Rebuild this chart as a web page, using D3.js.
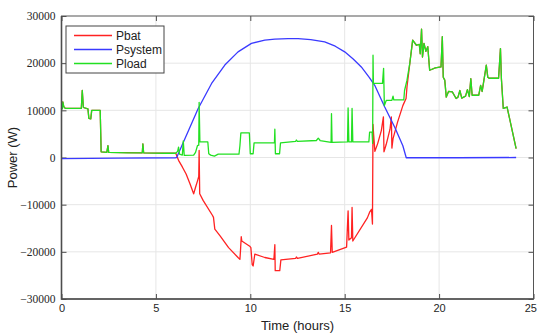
<!DOCTYPE html>
<html lang="en">
    <head>
        <meta charset="UTF-8" />
        <title>Power flows over a day</title>
        <script src="https://d3js.org/d3.v7.min.js"></script>
        <style>
            body { margin: 0; background: #fff; }
            .grid line { stroke: #e6e6e6; stroke-width: 1px; }
            .axis text { fill: #262626; }
            .axis line { stroke: #4d4d4d; }
            .series { fill: none; stroke-width: 1.3px; stroke-linejoin: round; }
        </style>
    </head>
    <body>
        <svg width="537" height="333"></svg>

        <script>
            // chart size
            const width = 537;
            const height = 333;

            // tick values
            const xTicks = [0, 5, 10, 15, 20, 25];
            const yTicks = [-30000, -20000, -10000, 0, 10000, 20000, 30000];

            // legend entries
            const seriesNames = ["Pbat", "Psystem", "Pload"];

            // [hour, W]
            const pbat = [
                [0, 10300], [0.07, 11800], [0.12, 10800], [0.2, 10400], [1.05, 10400],
                [1.1, 14200], [1.16, 10600], [1.4, 10300], [1.45, 8300], [1.55, 8200],
                [1.6, 10000], [2.05, 10000], [2.1, 1200], [2.4, 1100], [2.46, 2500],
                [2.5, 1100], [4.28, 1000], [4.31, 2900], [4.35, 1000], [6.05, 900],
                [6.1, 400], [6.2, -600], [6.4, -2000], [6.6, -3500], [6.8, -5500],
                [7.0, -7700], [7.1, -6300], [7.2, -5000], [7.27, -4000], [7.29, 1500],
                [7.32, -7700], [7.5, -9100], [8.0, -12300], [8.05, -12700], [8.12, -15200],
                [8.4, -16600], [8.85, -19100], [9.35, -21200], [9.45, -21600], [9.48, -19800],
                [9.52, -16800], [9.55, -17700], [9.97, -18800], [10.03, -19100], [10.1, -22700],
                [10.15, -23000], [10.24, -20500], [10.77, -21200], [11.25, -21600], [11.3, -18500],
                [11.32, -24000], [11.56, -24000], [11.62, -21700], [12.4, -21400], [12.44, -21100],
                [12.5, -21400], [13.55, -20500], [13.6, -20100], [13.65, -20500], [14.25, -20200],
                [14.3, -14400], [14.34, -20100], [15.1, -19000], [15.18, -11300], [15.22, -17500],
                [15.36, -17000], [15.39, -10600], [15.43, -17700], [16.2, -12800], [16.32, -11600],
                [16.42, -11000], [16.47, -14100], [16.5, 7000], [16.53, 5000], [16.6, 1300],
                [16.75, 3000], [16.94, 5700], [17.05, 8600], [17.08, 1200], [17.2, 2800],
                [17.4, 6000], [17.47, 8600], [17.5, 2000], [17.56, 4000], [17.8, 7500],
                [18.08, 11000], [18.25, 12500], [18.3, 15000], [18.45, 20000], [18.6, 24900],
                [18.8, 23800], [18.95, 24000], [19.0, 22000], [19.07, 27200], [19.12, 21300],
                [19.2, 24200], [19.3, 22500], [19.4, 23500], [19.5, 18500], [19.8, 19000],
                [20.1, 19200], [20.17, 25600], [20.22, 17000], [20.3, 16400], [20.38, 12800],
                [20.5, 14000], [20.7, 13900], [20.9, 12500], [21.0, 12800], [21.1, 14200],
                [21.2, 12600], [21.4, 13000], [21.5, 14400], [21.6, 12900], [21.68, 16700],
                [21.75, 13200], [22.1, 13200], [22.2, 15300], [22.28, 14000], [22.5, 19600],
                [22.58, 17000], [22.65, 16800], [23.15, 16800], [23.25, 23100], [23.3, 16700],
                [23.4, 10400], [23.6, 10700], [24.08, 1900],
            ];

            const psystem = [
                [0, -250], [3, -150], [6.05, -50], [6.1, 0], [7.24, 10400],
                [7.95, 15700], [8.65, 19600], [9.35, 22400], [10.06, 24200], [10.77, 24900],
                [11.3, 25100], [12.0, 25200], [12.53, 25200], [13.2, 25000], [13.94, 24500],
                [14.5, 23600], [15.0, 22400], [15.45, 20900], [15.88, 19200], [16.3, 17000],
                [16.59, 15300], [17.12, 10700], [17.65, 6400], [18.08, 2500], [18.26, -50],
                [21, -50], [24.08, 0],
            ];

            const pload = [
                [0, 10300], [0.05, 10300], [0.07, 11800], [0.12, 10800], [0.2, 10400],
                [1.05, 10400], [1.1, 14200], [1.16, 10600], [1.4, 10300], [1.45, 8300],
                [1.55, 8200], [1.6, 10000], [2.05, 10000], [2.1, 1200], [2.4, 1100],
                [2.46, 2500], [2.5, 1100], [3.5, 1000], [4.28, 1000], [4.31, 2900],
                [4.35, 1000], [5.5, 900], [6.05, 900], [6.15, 1300], [6.2, 2200],
                [6.25, 700], [6.4, 500], [6.45, 3500], [6.5, 450], [7.0, 500],
                [7.1, 1100], [7.2, 2500], [7.27, 2600], [7.29, 11700], [7.33, 3300],
                [7.75, 3300], [7.8, 800], [7.9, 500], [8.1, 300], [8.3, 700],
                [9.4, 700], [9.45, 2500], [9.5, 5200], [9.95, 5200], [10.0, 800],
                [10.15, 800], [10.2, 3100], [11.28, 3100], [11.3, 6000], [11.33, 800],
                [11.55, 800], [11.6, 3100], [12.4, 3400], [12.44, 3700], [12.5, 3400],
                [13.5, 3600], [13.6, 4100], [13.7, 3600], [14.28, 3200], [14.3, 9300],
                [14.33, 3200], [15.15, 3300], [15.18, 10500], [15.22, 3300], [15.36, 3300],
                [15.39, 10400], [15.43, 3300], [16.28, 3300], [16.32, 5400], [16.45, 5400],
                [16.48, 3000], [16.5, 21700], [16.52, 15700], [17.0, 15700], [17.06, 18900],
                [17.1, 11000], [17.2, 12100], [17.5, 12100], [17.56, 13000], [17.6, 12200],
                [18.13, 12200], [18.17, 14200], [18.3, 16400], [18.45, 20000], [18.6, 24900],
                [18.8, 23800], [18.95, 24000], [19.0, 22000], [19.07, 27200], [19.12, 21300],
                [19.2, 24200], [19.3, 22500], [19.4, 23500], [19.5, 18500], [19.8, 19000],
                [20.1, 19200], [20.17, 25600], [20.22, 17000], [20.3, 16400], [20.38, 12800],
                [20.5, 14000], [20.7, 13900], [20.9, 12500], [21.0, 12800], [21.1, 14200],
                [21.2, 12600], [21.4, 13000], [21.5, 14400], [21.6, 12900], [21.68, 16700],
                [21.75, 13200], [22.1, 13200], [22.2, 15300], [22.28, 14000], [22.5, 19600],
                [22.58, 17000], [22.65, 16800], [23.15, 16800], [23.25, 23100], [23.3, 16700],
                [23.4, 10400], [23.6, 10700], [24.08, 1900],
            ];

            const colors = ["#ff2222", "#3a3aff", "#22e022"];

            const margin = { top: 16, right: 3.5, bottom: 34, left: 61.5 };
            const x = d3.scaleLinear().domain([0, 25]).range([margin.left, width - margin.right]);
            const y = d3.scaleLinear().domain([-30000, 30000]).range([height - margin.bottom, margin.top]);

            const svg = d3.select("svg");

            // grid
            const grid = svg.append("g").attr("class", "grid");
            grid.selectAll(".gx")
                .data(xTicks.slice(1, -1))
                .join("line")
                .attr("x1", (d) => x(d)).attr("x2", (d) => x(d))
                .attr("y1", y.range()[1]).attr("y2", y.range()[0]);
            grid.selectAll(".gy")
                .data(yTicks.slice(1, -1))
                .join("line")
                .attr("y1", (d) => y(d)).attr("y2", (d) => y(d))
                .attr("x1", x.range()[0]).attr("x2", x.range()[1]);

            // axes (ticks inward, MATLAB style)
            const fontSans = "Arial, 'Liberation Sans', Helvetica, sans-serif";
            const fontSerif = "'Liberation Serif', 'Times New Roman', serif";

            const xAxis = svg.append("g")
                .attr("class", "axis")
                .attr("transform", `translate(0,${y.range()[0]})`)
                .call(d3.axisBottom(x).tickValues(xTicks).tickSize(-5).tickPadding(5.5))
                .call((g) => g.select(".domain").remove());
            xAxis.selectAll("text")
                .style("font-family", fontSans)
                .style("font-size", "11px");
            // last label sits at the window edge: keep it inside
            xAxis.selectAll("text")
                .filter((d) => d === 25)
                .attr("text-anchor", "end")
                .attr("x", 3);

            svg.append("g")
                .attr("class", "axis")
                .attr("transform", `translate(${x.range()[0]},0)`)
                .call(d3.axisLeft(y).tickValues(yTicks).tickFormat(d3.format("d")).tickSize(-5).tickPadding(6))
                .call((g) => g.select(".domain").remove())
                .selectAll("text")
                .style("font-family", fontSerif)
                .style("font-size", "11.5px");

            svg.append("g")
                .attr("class", "axis")
                .attr("transform", `translate(0,${y.range()[1]})`)
                .call(d3.axisTop(x).tickValues(xTicks).tickSize(-5).tickFormat(""))
                .call((g) => g.select(".domain").remove());

            svg.append("g")
                .attr("class", "axis")
                .attr("transform", `translate(${x.range()[1]},0)`)
                .call(d3.axisRight(y).tickValues(yTicks).tickSize(-5).tickFormat(""))
                .call((g) => g.select(".domain").remove());

            // lines
            const line = d3.line()
                .x((d) => x(d[0]))
                .y((d) => y(d[1]));

            svg.append("g")
                .selectAll("path")
                .data([pbat, psystem, pload])
                .join("path")
                .attr("class", "series")
                .attr("stroke", (d, i) => colors[i])
                .attr("d", line);

            // frame
            svg.append("rect")
                .attr("x", x.range()[0]).attr("y", y.range()[1])
                .attr("width", x.range()[1] - x.range()[0])
                .attr("height", y.range()[0] - y.range()[1])
                .attr("fill", "none")
                .attr("stroke", "#555")
                .attr("stroke-width", 1);
            svg.append("path")
                .attr("d", `M${x.range()[0]},${y.range()[1]}V${y.range()[0]}H${x.range()[1]}`)
                .attr("fill", "none")
                .attr("stroke", "#4d4d4d")
                .attr("stroke-width", 1.6);

            // legend
            const legend = svg.append("g").attr("transform", "translate(66,26)");
            legend.append("rect")
                .attr("width", 98).attr("height", 47)
                .attr("fill", "#fff").attr("stroke", "#444").attr("stroke-width", 1);
            const item = legend.selectAll(".item")
                .data(seriesNames)
                .join("g")
                .attr("transform", (d, i) => `translate(0,${9.5 + i * 14})`);
            item.append("line")
                .attr("x1", 8).attr("x2", 46)
                .attr("stroke", (d, i) => colors[i])
                .attr("stroke-width", 1.3);
            item.append("text")
                .attr("x", 50).attr("dy", "0.35em")
                .style("font-family", fontSans).style("font-size", "12px")
                .attr("fill", "#222")
                .text((d) => d);

            // axis titles
            svg.append("text")
                .attr("x", (x.range()[0] + x.range()[1]) / 2)
                .attr("y", 330)
                .attr("text-anchor", "middle")
                .style("font-family", fontSans).style("font-size", "13px")
                .attr("fill", "#222")
                .text("Time (hours)");

            svg.append("text")
                .attr("transform", `translate(17,${y(0)}) rotate(-90)`)
                .attr("text-anchor", "middle")
                .style("font-family", fontSans).style("font-size", "13px")
                .attr("fill", "#222")
                .text("Power (W)");
        </script>
    </body>
</html>
